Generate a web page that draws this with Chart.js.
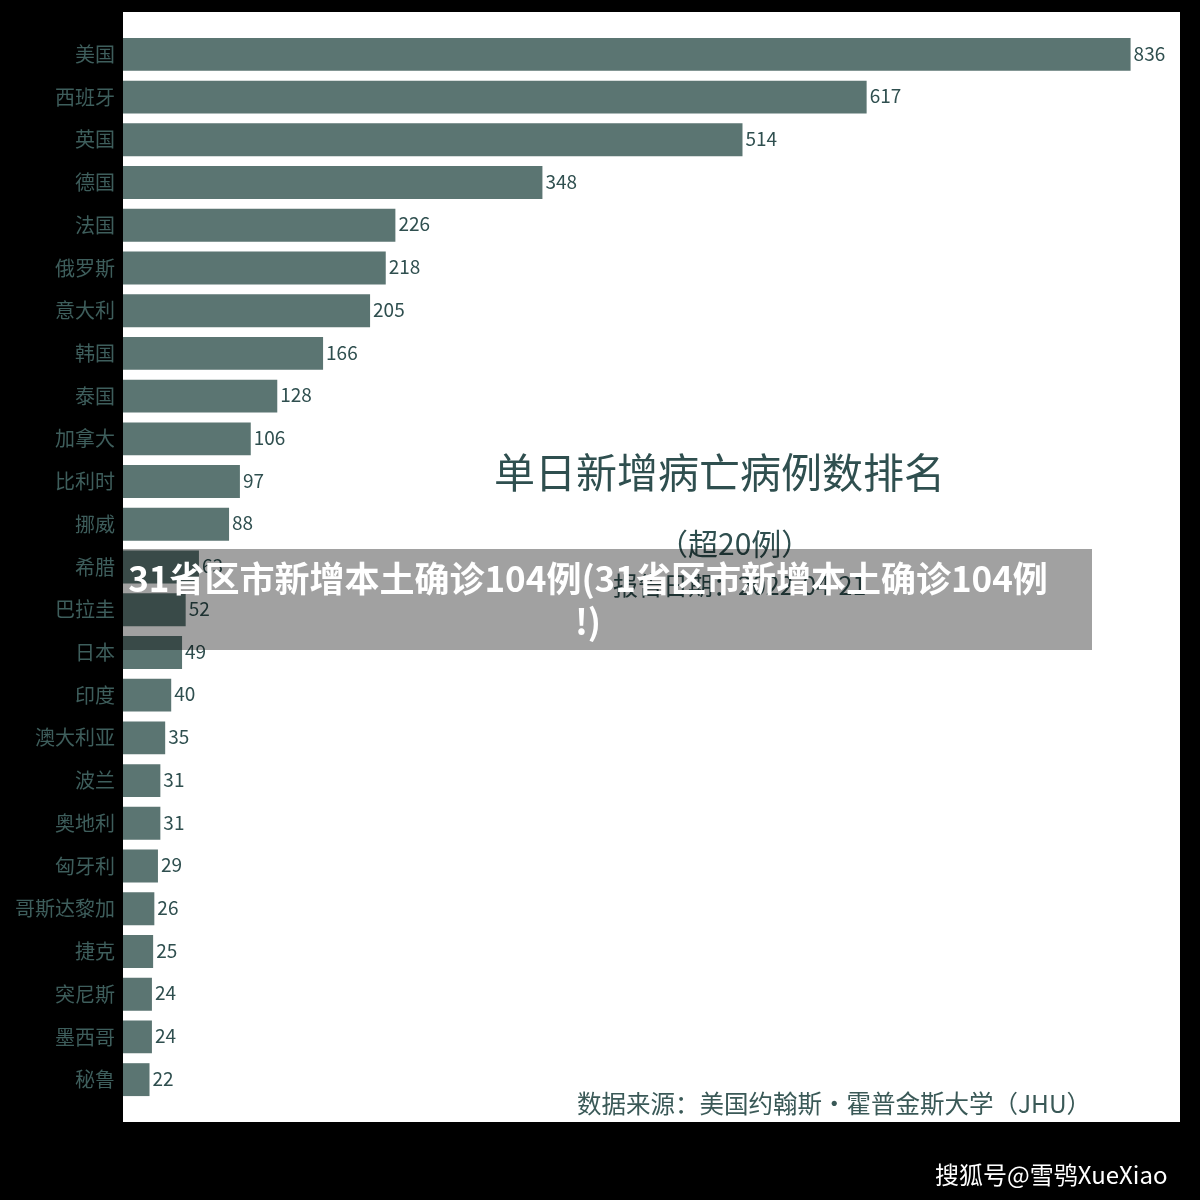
<!DOCTYPE html>
<html>
<head>
<meta charset="utf-8">
<script src="https://cdn.jsdelivr.net/npm/chart.js@4.4.0/dist/chart.umd.min.js"></script>
<style>
  html, body { margin: 0; padding: 0; background: #000; }
  #wrap { position: relative; width: 1200px; height: 1200px; overflow: hidden; }
  #chart { position: absolute; left: 0; top: 0; }
  .txt { position: absolute; font-family: "Noto Sans CJK SC", sans-serif; white-space: nowrap; color: #2f4f4f; }
  #title { left: 494px; top: 440px; font-size: 41px; }
  #sub { left: 658px; top: 520px; font-size: 30px; }
  #date { left: 613px; top: 566px; font-size: 25px; }
  #source { left: 577px; top: 1085px; font-size: 24.5px; color: #3a5957; }
  #mark { left: 935px; top: 1156px; font-size: 24px; color: #fff; }
  #banner {
    position: absolute; left: 120px; top: 549px; width: 972px; height: 101px;
    box-sizing: border-box; padding: 6px 36px 0 0;
    background: rgba(0, 0, 0, 0.37); color: #fff; text-align: center;
    font-family: "Noto Sans CJK SC", sans-serif; font-weight: bold;
    font-size: 35px; line-height: 43px; white-space: nowrap;
  }
</style>
</head>
<body>
<div id="wrap">
  <canvas id="chart" width="1200" height="1200"></canvas>
  <div class="txt" id="title">单日新增病亡病例数排名</div>
  <div class="txt" id="sub">（超20例）</div>
  <div class="txt" id="date">报告日期：2022-04-21</div>
  <div class="txt" id="source">数据来源：美国约翰斯·霍普金斯大学（JHU）</div>
  <div class="txt" id="mark">搜狐号@雪鸮XueXiao</div>
  <div id="banner">31省区市新增本土确诊104例(31省区市新增本土确诊104例<br>!)</div>
</div>
<script>
const countries = ['美国', '西班牙', '英国', '德国', '法国', '俄罗斯', '意大利', '韩国', '泰国', '加拿大',
  '比利时', '挪威', '希腊', '巴拉圭', '日本', '印度', '澳大利亚', '波兰', '奥地利', '匈牙利',
  '哥斯达黎加', '捷克', '突尼斯', '墨西哥', '秘鲁']
const deaths = [836, 617, 514, 348, 226, 218, 205, 166, 128, 106,
  97, 88, 63, 52, 49, 40, 35, 31, 31, 29,
  26, 25, 24, 24, 22]

const BAR = '#5b7572'
const INK = '#2f4f4f'

// black page, white plot panel
const panel = {
  id: 'panel',
  beforeDraw(chart) {
    const { ctx, chartArea: a } = chart
    ctx.save()
    ctx.fillStyle = '#000'
    ctx.fillRect(0, 0, chart.width, chart.height)
    ctx.fillStyle = '#fff'
    ctx.fillRect(a.left, a.top - 21, a.right - a.left, a.bottom - a.top + 42)
    ctx.restore()
  }
}

// value at the end of each bar
const valueLabels = {
  id: 'valueLabels',
  afterDatasetsDraw(chart) {
    const { ctx } = chart
    const meta = chart.getDatasetMeta(0)
    ctx.save()
    ctx.fillStyle = INK
    ctx.font = '19px "Noto Sans CJK SC", sans-serif'
    ctx.textAlign = 'left'
    ctx.textBaseline = 'middle'
    meta.data.forEach((bar, i) => {
      ctx.fillText(String(deaths[i]), bar.x + 3, bar.y - 1)
    })
    ctx.restore()
  }
}

new Chart(document.getElementById('chart'), {
  type: 'bar',
  data: {
    labels: countries,
    datasets: [{
      data: deaths,
      backgroundColor: BAR,
      borderWidth: 0,
      barPercentage: 0.77,
      categoryPercentage: 1.0
    }]
  },
  options: {
    indexAxis: 'y',
    responsive: false,
    animation: false,
    layout: { padding: { top: 33, bottom: 99, right: 20, left: 0 } },
    plugins: {
      legend: { display: false },
      tooltip: { enabled: false }
    },
    scales: {
      x: {
        display: false,
        min: 0,
        max: 877
      },
      y: {
        grid: { display: false, drawTicks: false },
        border: { display: false },
        ticks: {
          color: '#3e5e5c',
          padding: 8,
          font: { family: '"Noto Sans CJK SC", sans-serif', size: 20 }
        },
        afterFit(scale) { scale.width = 123 }
      }
    }
  },
  plugins: [panel, valueLabels]
})
</script>
</body>
</html>
